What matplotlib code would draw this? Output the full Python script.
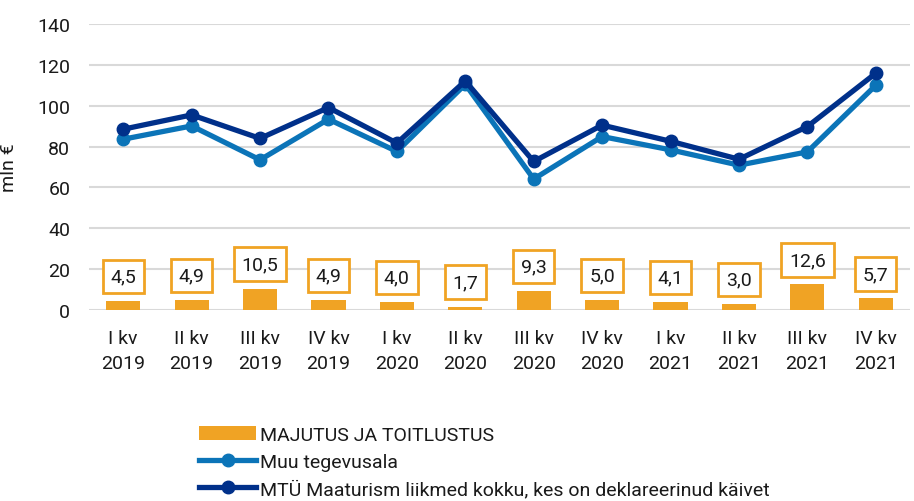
import matplotlib
matplotlib.use("Agg")
import matplotlib.pyplot as plt
import numpy as np

categories = ["I kv\n2019", "II kv\n2019", "III kv\n2019", "IV kv\n2019",
              "I kv\n2020", "II kv\n2020", "III kv\n2020", "IV kv\n2020",
              "I kv\n2021", "II kv\n2021", "III kv\n2021", "IV kv\n2021"]
majutus = [4.5, 4.9, 10.5, 4.9, 4.0, 1.7, 9.3, 5.0, 4.1, 3.0, 12.6, 5.7]
muu = [83.6, 90.1, 73.5, 93.4, 77.6, 110.5, 64.1, 84.9, 78.4, 70.9, 77.4, 110.0]
kokku = [88.5, 95.5, 84.0, 99.1, 81.7, 112.1, 72.7, 90.5, 82.6, 73.8, 89.8, 115.9]
yticks = [0, 20, 40, 60, 80, 100, 120, 140]

plt.rcParams['font.family'] = ['Roboto', 'DejaVu Sans']

ORANGE = "#f0a324"
LIGHT = "#0b74b8"
DARK = "#00308a"
TXT = "#1a1a1a"

fig = plt.figure(figsize=(9.14, 5.02), dpi=100)
ax = fig.add_axes([89/914, 1-311/502, (910-89)/914, (311-25)/502])

x = np.arange(len(categories))
bars = ax.bar(x, majutus, width=0.5, color=ORANGE, zorder=2, label="MAJUTUS JA TOITLUSTUS")
l1, = ax.plot(x, muu, color=LIGHT, lw=3.8, marker='o', ms=9, zorder=3, label="Muu tegevusala")
l2, = ax.plot(x, kokku, color=DARK, lw=3.8, marker='o', ms=9, zorder=4,
              label="MTÜ Maaturism liikmed kokku, kes on deklareerinud käivet")

for xi, v in zip(x, majutus):
    ax.annotate(f"{v:.1f}".replace('.', ','), (xi, v), xytext=(0, 17.5),
                textcoords='offset points', ha='center', va='center', fontsize=14,
                color=TXT,
                bbox=dict(boxstyle='square,pad=0.4', fc='white', ec=ORANGE, lw=2), zorder=5)

ax.set_xlim(-0.5, len(categories) - 0.5)
ax.set_ylim(0, 140)
ax.set_yticks(yticks)
ax.set_yticklabels([str(t) for t in yticks], fontsize=14)
ax.set_xticks(x)
ax.set_xticklabels(categories, fontsize=14, linespacing=1.45)
ax.tick_params(axis='both', length=0, colors=TXT)
ax.tick_params(axis='y', pad=13.5)
ax.tick_params(axis='x', pad=14)
ax.yaxis.grid(True, color='#d9d9d9', lw=1.5, zorder=0)
ax.set_axisbelow(True)
for s in ax.spines.values():
    s.set_visible(False)
ax.set_ylabel("mln €", fontsize=14, color=TXT)
ax.yaxis.set_label_coords((18 - 89) / 821, 0.5)

fig.legend(handles=[bars, l1, l2], loc='upper left', bbox_to_anchor=(199/914, 1-427/502),
           frameon=False, fontsize=14, handlelength=2.95, handletextpad=0.2,
           labelspacing=0.45, borderaxespad=0, borderpad=0, labelcolor=TXT)

fig.savefig("out.png", dpi=100)
